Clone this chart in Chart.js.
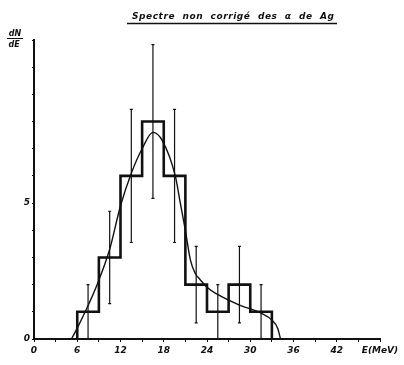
<!DOCTYPE html>
<html>
<head>
<meta charset="utf-8">
<script src="https://cdn.jsdelivr.net/npm/chart.js@4"></script>
<style>
  html, body { margin: 0; padding: 0; background: #fff; }
  #wrap { position: relative; width: 404px; height: 365px; }
</style>
</head>
<body>
<div id="wrap"><canvas id="c"></canvas></div>
<script>
const TITLE = 'Spectre  non  corrigé  des  α  de  Ag';

// histogram: left bin edges (MeV), counts, sqrt errors
const binEdges = [6, 9, 12, 15, 18, 21, 24, 27, 30, 33];
const counts = [1, 3, 6, 8, 6, 2, 1, 2, 1];
const errors = [1, 1.7, 2.45, 2.83, 2.45, 1.41, 1, 1.41, 1];

// fitted curve
const curveE = [5.2, 6, 7.1, 8.75, 10.5, 12, 13.5, 15, 16.5, 17.8, 19.6, 20.3, 21, 21.7, 22.4, 23, 24, 25.4, 28.5, 31.5, 33, 33.8, 34.2];
const curveN = [0, 0.4, 1.0, 2.0, 3.3, 4.9, 6.1, 7.0, 7.6, 7.3, 6.0, 5.0, 4.0, 2.9, 2.4, 2.2, 1.9, 1.65, 1.25, 0.95, 0.7, 0.4, 0];

const FONT = { family: '"DejaVu Sans"', size: 9, style: 'italic', weight: 'bold' };

const histPts = [{ x: binEdges[0], y: 0 }];
counts.forEach((n, i) => histPts.push({ x: binEdges[i], y: n }));
histPts.push({ x: binEdges[binEdges.length - 1], y: 0 });

const curvePts = curveE.map((e, i) => ({ x: e, y: curveN[i] }));

const errorBars = {
    id: 'errorBars',
    afterDatasetsDraw(chart) {
        const { ctx, scales: { x, y } } = chart;
        ctx.save();
        ctx.strokeStyle = '#111';
        ctx.lineWidth = 1.2;
        counts.forEach((n, i) => {
            const cx = x.getPixelForValue((binEdges[i] + binEdges[i + 1]) / 2);
            const top = y.getPixelForValue(n + errors[i]);
            const bot = y.getPixelForValue(Math.max(0, n - errors[i]));
            ctx.beginPath();
            ctx.moveTo(cx, top);
            ctx.lineTo(cx, bot);
            ctx.moveTo(cx - 1.5, top);
            ctx.lineTo(cx + 1.5, top);
            ctx.moveTo(cx - 1.5, bot);
            ctx.lineTo(cx + 1.5, bot);
            ctx.stroke();
        });
        ctx.restore();
    },
};

const labels = {
    id: 'labels',
    afterDraw(chart) {
        const ctx = chart.ctx;
        ctx.save();
        ctx.fillStyle = '#111';
        ctx.strokeStyle = '#111';
        // title, underlined
        ctx.font = 'italic bold 9px "DejaVu Sans"';
        ctx.textBaseline = 'alphabetic';
        ctx.textAlign = 'left';
        const w = ctx.measureText(TITLE).width;
        const sp = (202 - w) / (TITLE.length - 1);
        ctx.letterSpacing = sp + 'px';
        ctx.fillText(TITLE, 132, 19);
        ctx.letterSpacing = '0px';
        ctx.lineWidth = 1.5;
        ctx.beginPath();
        ctx.moveTo(127, 23.5);
        ctx.lineTo(337, 23.5);
        ctx.stroke();
        // dN/dE
        ctx.font = 'italic bold 8px "DejaVu Sans"';
        ctx.textAlign = 'center';
        ctx.fillText('dN', 15, 36);
        ctx.fillText('dE', 14, 47);
        ctx.lineWidth = 1;
        ctx.beginPath();
        ctx.moveTo(7, 38.5);
        ctx.lineTo(23, 38.5);
        ctx.stroke();
        ctx.restore();
    },
};

new Chart(document.getElementById('c'), {
    type: 'scatter',
    data: {
        datasets: [
            {
                data: histPts,
                showLine: true,
                stepped: true,
                borderColor: '#111',
                borderWidth: 2.6,
                pointRadius: 0,
            },
            {
                data: curvePts,
                showLine: true,
                cubicInterpolationMode: 'monotone',
                borderColor: '#111',
                borderWidth: 1.4,
                pointRadius: 0,
            },
        ],
    },
    options: {
        responsive: true,
        maintainAspectRatio: false,
        animation: false,
        layout: { padding: { top: 40, right: 24, left: 0, bottom: 0 } },
        plugins: { legend: { display: false }, tooltip: { enabled: false } },
        scales: {
            x: {
                type: 'linear',
                min: 0,
                max: 48,
                afterFit: s => { s.height = 26; },
                border: { display: true, color: '#111', width: 2 },
                grid: { drawOnChartArea: false, drawTicks: true, tickLength: 3, color: '#111', lineWidth: 1 },
                ticks: {
                    stepSize: 3,
                    autoSkip: false,
                    maxRotation: 0,
                    padding: 3,
                    color: '#111',
                    font: FONT,
                    callback: v => v === 48 ? 'E(MeV)' : (v % 6 === 0 ? String(v) : ''),
                },
            },
            y: {
                min: 0,
                max: 11,
                afterFit: s => { s.width = 34; },
                border: { display: true, color: '#111', width: 2 },
                grid: { drawOnChartArea: false, drawTicks: true, tickLength: 2, color: '#111', lineWidth: 1 },
                ticks: {
                    stepSize: 1,
                    autoSkip: false,
                    padding: 2,
                    color: '#111',
                    font: FONT,
                    callback: v => (v === 0 || v === 5) ? String(v) : '',
                },
            },
        },
    },
    plugins: [errorBars, labels],
});
</script>
</body>
</html>
